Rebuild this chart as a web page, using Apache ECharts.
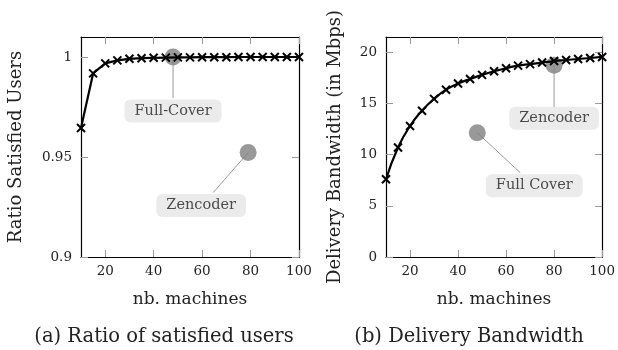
<!DOCTYPE html>
<html>
<head>
<meta charset="utf-8">
<script src="https://cdn.jsdelivr.net/npm/echarts@6/dist/echarts.min.js"></script>
<style>
  html, body { margin: 0; padding: 0; background: #fff; }
  #chart { width: 618px; height: 350px; }
</style>
</head>
<body>
<div id="chart"></div>
<script>
// nb. machines on the x axis, shared by both panels
const machines = [10, 15, 20, 25, 30, 35, 40, 45, 50, 55, 60, 65, 70, 75, 80, 85, 90, 95, 100];
// (a) ratio of satisfied users
const satisfied = [0.9645, 0.9918, 0.9968, 0.9983, 0.9991, 0.9994, 0.9996, 0.9997, 0.9998, 0.9998,
  0.9999, 0.9999, 0.9999, 1.0, 1.0, 1.0, 1.0, 1.0, 1.0];
// (b) delivery bandwidth, Mbps
const bandwidth = [7.6, 10.7, 12.8, 14.3, 15.45, 16.35, 16.95, 17.4, 17.8, 18.15,
  18.45, 18.7, 18.85, 19.0, 19.15, 19.25, 19.35, 19.45, 19.55];

// reference points
const refNamesA = ["Full-Cover", "Zencoder"];
const refPointsA = [[48, 1.0], [79, 0.9522]];
const refNamesB = ["Zencoder", "Full Cover"];
const refPointsB = [[80, 18.75], [48, 12.15]];

const xTicks = [20, 40, 60, 80, 100];
const yTicksA = [0.9, 0.95, 1];
const yTicksB = [0, 5, 10, 15, 20];

// label box offsets and connector vectors (px), relative to the point
const labelShiftA = [[0, 54], [-47, 53]];
const labelShiftB = [[0, 53], [57, 53]];
const connectA = [[0, 41], [-35, 40]];
const connectB = [[0, 42], [43, 40]];

const FONT = "DejaVu Serif";

function xAxisOf(grid, pos) {
  const main = pos === "bottom";
  return {
    type: "value", gridIndex: grid, position: pos, min: 10, max: 100,
    axisLine: { show: true, onZero: false, lineStyle: { color: "#000", width: 1.2 } },
    axisTick: { show: true, inside: true, length: 7, customValues: xTicks, lineStyle: { color: "#999" } },
    axisLabel: { show: main, customValues: xTicks, margin: 7, color: "#222", fontFamily: FONT, fontSize: 13.5 },
    splitLine: { show: false },
    name: main ? "nb. machines" : "", nameLocation: "middle", nameGap: 34,
    nameTextStyle: { color: "#222", fontFamily: FONT, fontSize: 17 },
  };
}

function yAxisOf(grid, pos, min, max, ticks, name, gap) {
  const main = pos === "left";
  return {
    type: "value", gridIndex: grid, position: pos, min: min, max: max,
    axisLine: { show: true, onZero: false, lineStyle: { color: "#000", width: 1.2 } },
    axisTick: { show: true, inside: true, length: 7, customValues: ticks, lineStyle: { color: "#999" } },
    axisLabel: { show: main, customValues: ticks, margin: 9, color: "#222", fontFamily: FONT, fontSize: 13.5 },
    splitLine: { show: false },
    name: main ? name : "", nameLocation: "middle", nameGap: gap,
    nameTextStyle: { color: "#222", fontFamily: FONT, fontSize: 18 },
  };
}

function refSeries(grid, names, points, shifts) {
  return {
    type: "scatter", xAxisIndex: grid * 2, yAxisIndex: grid * 2, z: 2,
    symbolSize: 17, itemStyle: { color: "#808080" },
    data: points.map((p, i) => ({ value: p, name: names[i] })),
    label: {
      show: true, position: "inside", formatter: "{b}",
      color: "#222", fontFamily: FONT, fontSize: 14.5,
      backgroundColor: "#e6e6e6", borderRadius: 6, padding: [4, 10],
    },
    labelLayout: (params) => ({ dx: shifts[params.dataIndex][0], dy: shifts[params.dataIndex][1] }),
    emphasis: { disabled: true },
  };
}

function curveSeries(grid, values, smooth) {
  return {
    type: "line", xAxisIndex: grid * 2, yAxisIndex: grid * 2, z: 3,
    data: machines.map((m, i) => [m, values[i]]),
    smooth: smooth,
    symbol: "path://M0,0L10,10M10,0L0,10", symbolSize: 8,
    itemStyle: { color: "#000", borderColor: "#000", borderWidth: 2 },
    lineStyle: { color: "#000", width: 2.2 },
    emphasis: { disabled: true },
  };
}

const chart = echarts.init(document.getElementById("chart"), null, { renderer: "canvas" });
chart.setOption({
  backgroundColor: "#fff",
  animation: false,
  grid: [
    { left: 81, top: 37, width: 218, height: 220 },
    { left: 386, top: 37, width: 218, height: 220 },
  ],
  xAxis: [xAxisOf(0, "bottom"), xAxisOf(0, "top"), xAxisOf(1, "bottom"), xAxisOf(1, "top")],
  yAxis: [
    yAxisOf(0, "left", 0.9, 1.01, yTicksA, "Ratio Satisfied Users", 56),
    yAxisOf(0, "right", 0.9, 1.01, yTicksA, "", 0),
    yAxisOf(1, "left", 0, 21.5, yTicksB, "Delivery Bandwidth (in Mbps)", 42),
    yAxisOf(1, "right", 0, 21.5, yTicksB, "", 0),
  ],
  series: [
    refSeries(0, refNamesA, refPointsA, labelShiftA),
    curveSeries(0, satisfied, false),
    refSeries(1, refNamesB, refPointsB, labelShiftB),
    curveSeries(1, bandwidth, true),
  ],
});

// connectors from each reference point to its label box
function connectors(grid, points, vecs) {
  return points.map((pt, i) => {
    const p = chart.convertToPixel({ gridIndex: grid }, pt);
    return {
      type: "line", z: 0,
      shape: { x1: p[0], y1: p[1], x2: p[0] + vecs[i][0], y2: p[1] + vecs[i][1] },
      style: { stroke: "#999", lineWidth: 1 },
    };
  });
}

const captionStyle = { font: "19.5px '" + FONT + "'", fill: "#222", align: "center", verticalAlign: "middle" };
chart.setOption({
  graphic: [
    ...connectors(0, refPointsA, connectA),
    ...connectors(1, refPointsB, connectB),
    { type: "text", x: 164, y: 337, style: Object.assign({ text: "(a) Ratio of satisfied users" }, captionStyle) },
    { type: "text", x: 469, y: 337, style: Object.assign({ text: "(b) Delivery Bandwidth" }, captionStyle) },
  ],
});
</script>
</body>
</html>
